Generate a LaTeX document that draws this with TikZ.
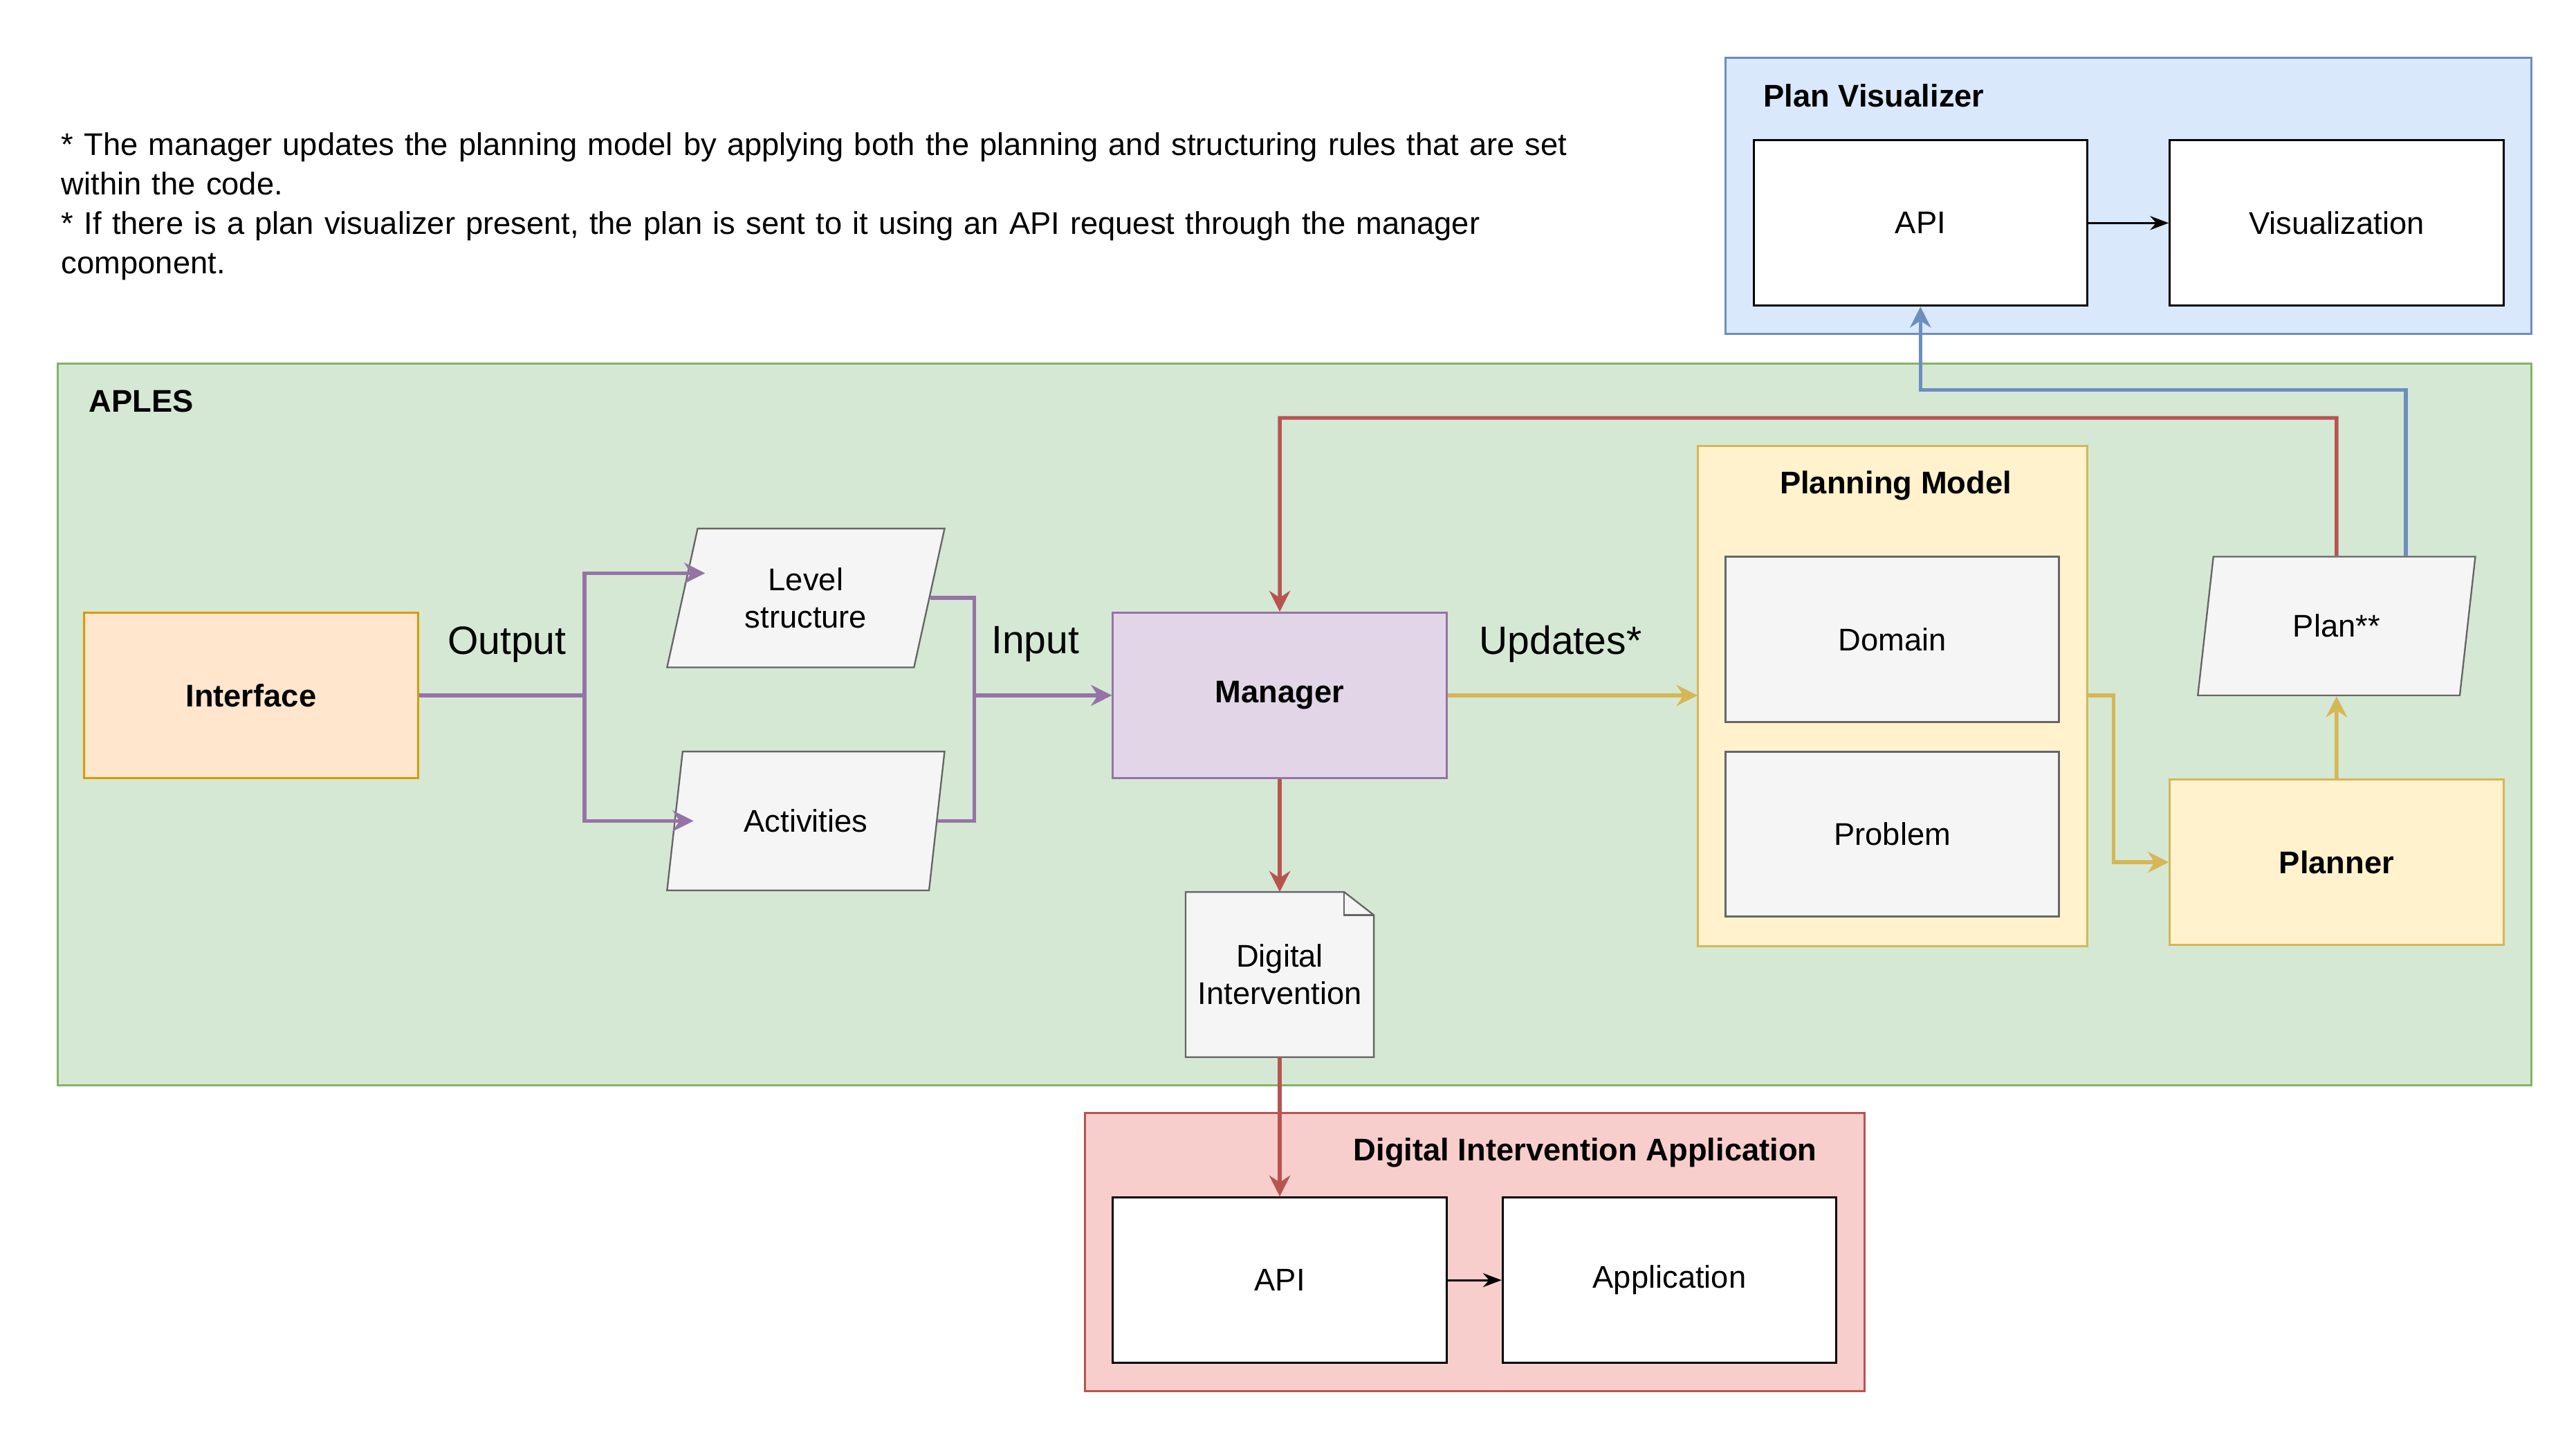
\documentclass[tikz,border=0pt]{standalone}
\usepackage{fontspec}
\setmainfont{Liberation Sans}
\usetikzlibrary{shapes.geometric,arrows.meta}
\definecolor{pvfill}{HTML}{DAE8FC}\definecolor{pvline}{HTML}{6C8EBF}
\definecolor{apfill}{HTML}{D5E8D4}\definecolor{apline}{HTML}{82B366}
\definecolor{iffill}{HTML}{FFE6CC}\definecolor{ifline}{HTML}{D79B00}
\definecolor{mgfill}{HTML}{E1D5E7}\definecolor{mgline}{HTML}{9673A6}
\definecolor{ylfill}{HTML}{FFF2CC}\definecolor{ylline}{HTML}{D6B656}
\definecolor{rdfill}{HTML}{F8CECC}\definecolor{rdline}{HTML}{B85450}
\definecolor{gyfill}{HTML}{F5F5F5}\definecolor{gyline}{HTML}{666666}
\tikzset{
  box/.style={draw, line width=0.9pt, minimum width=5.05cm, minimum height=2.5cm, font=\fontsize{13.5}{16}\selectfont, align=center},
  para/.style={trapezium, trapezium left angle=68, trapezium right angle=112, trapezium stretches body,
    draw=gyline, fill=gyfill, line width=0.7pt, minimum width=4.2cm, minimum height=2.1cm, font=\fontsize{13.5}{16}\selectfont, align=center},
  title/.style={font=\bfseries\fontsize{13.5}{16}\selectfont},
  lbl/.style={font=\fontsize{17}{20}\selectfont},
  flow/.style={line width=1.6pt, -{Stealth[length=9pt,width=9pt]}},
}
\begin{document}
\begin{tikzpicture}[x=0.025cm, y=-0.025cm]
  \useasboundingbox (0,0) rectangle (1560,873);

  % notes
  \node[anchor=north west, align=left, text width=25cm, font=\fontsize{13.5}{17}\selectfont, inner sep=0] (notes) at (37,80)
    {* The manager updates the planning model by applying both the planning and structuring rules that are set\\ within the code.\\
     ** If there is a plan visualizer present, the plan is sent to it using an API request through the manager\\ component.};

  % containers
  \draw[draw=pvline, fill=pvfill, line width=0.9pt] (1045,35) rectangle (1533,202);
  \node[title, anchor=west] (pvtitle) at (1063,58) {Plan Visualizer};
  \draw[draw=apline, fill=apfill, line width=0.9pt] (35,220) rectangle (1533,657);
  \node[title, anchor=west] (aptitle) at (49,243) {APLES};
  \draw[draw=rdline, fill=rdfill, line width=0.9pt] (657,674) rectangle (1129,842);
  \node[title] (diatitle) at (960,698) {Digital Intervention Application};

  % plan visualizer
  \node[box, fill=white] (pvapi) at (1163,135) {API};
  \node[box, fill=white] (vis) at (1415,135) {Visualization};

  % aples
  \node[box, draw=ifline, fill=iffill, font=\bfseries\fontsize{13.5}{16}\selectfont] (interface) at (152,421) {Interface};
  \node[para] (level) at (488,362) {Level\\structure};
  \node[para] (act) at (488,497) {Activities};
  \node[box, draw=mgline, fill=mgfill, font=\bfseries\fontsize{13.5}{16}\selectfont] (manager) at (775,421) {Manager};
  \draw[draw=ylline, fill=ylfill, line width=0.9pt] (1028,270) rectangle (1264,573);
  \node[title] (pmtitle) at (1148,294) {Planning Model};
  \coordinate (pmleft) at (1028,421);
  \coordinate (pmright) at (1264,421);
  \node[box, draw=gyline, fill=gyfill] (domain) at (1146,387) {Domain};
  \node[box, draw=gyline, fill=gyfill] (problem) at (1146,505) {Problem};
  \node[para] (plan) at (1415,379) {Plan**};
  \node[box, draw=ylline, fill=ylfill, font=\bfseries\fontsize{13.5}{16}\selectfont] (planner) at (1415,522) {Planner};

  % digital intervention note
  \draw[draw=gyline, fill=gyfill, line width=0.7pt] (718,540) -- (814,540) -- (832,554) -- (832,640) -- (718,640) -- cycle;
  \draw[draw=gyline, line width=0.7pt] (814,540) -- (814,554) -- (832,554);
  \node[font=\fontsize{13.5}{16}\selectfont, align=center] (di) at (775,590) {Digital\\Intervention};
  \coordinate (ditop) at (775,540);
  \coordinate (dibot) at (775,640);

  % application
  \node[box, fill=white] (diaapi) at (775,775) {API};
  \node[box, fill=white] (app) at (1011,775) {Application};

  % connectors
  \draw[-{Stealth[length=8pt]}, line width=0.9pt] (pvapi) -- (vis);
  \draw[-{Stealth[length=8pt]}, line width=0.9pt] (diaapi) -- (app);

  \draw[flow, mgline] (interface.east) -| (354,347) -- (427,347);
  \draw[flow, mgline] (354,421) |- (420,497);
  \draw[flow, mgline] (level.east) -| (590,421) -- (manager.west);
  \draw[mgline, line width=1.6pt] (act.east) -| (590,421);
  \node[lbl] (output) at (307,390) {Output};
  \node[lbl] (input) at (627,390) {Input};
  \node[lbl] (updates) at (945,390) {Updates*};

  \draw[flow, ylline] (manager.east) -- (pmleft);
  \draw[flow, ylline] (pmright) -- (1280,421) |- (planner.west);
  \draw[flow, ylline] (planner.north) -- (plan.south);

  \draw[flow, rdline] (plan.north) -- (1415,253) -| (manager.north);
  \draw[flow, rdline] (manager.south) -- (ditop);
  \draw[flow, rdline] (dibot) -- (diaapi.north);

  \draw[flow, pvline] (1457,337) -- (1457,236) -| (pvapi.south);
\end{tikzpicture}
\end{document}
